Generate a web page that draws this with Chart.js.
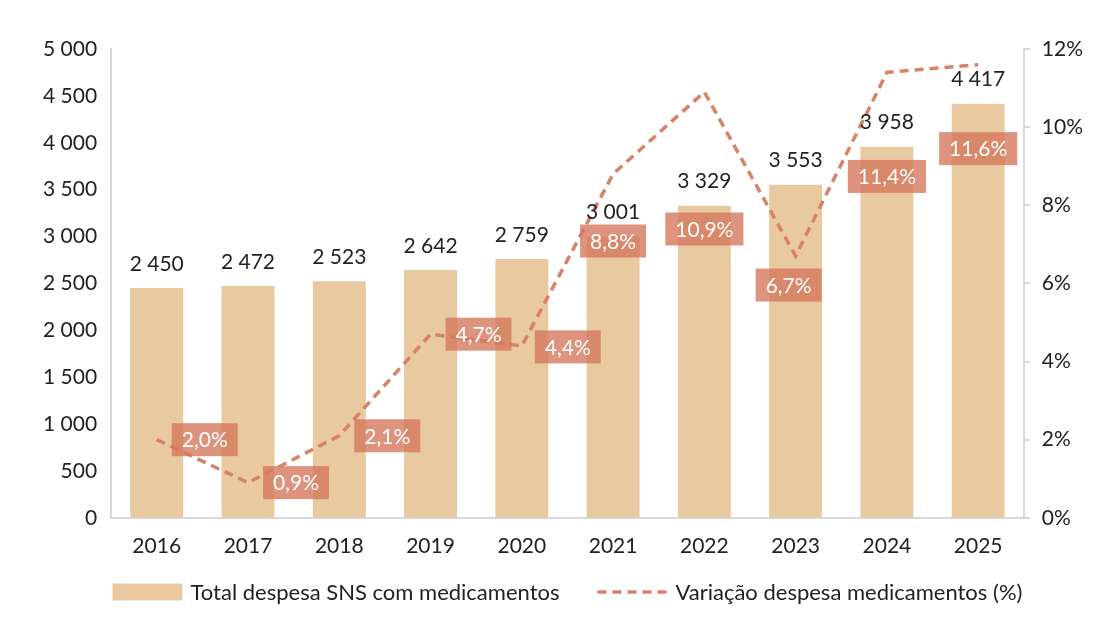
<!DOCTYPE html>
<html>
<head>
<meta charset="utf-8">
<script src="https://cdn.jsdelivr.net/npm/chart.js@4"></script>
<style>
  body { margin: 0; background: #fff; }
  #wrap { width: 1100px; height: 638px; }
</style>
</head>
<body>
<div id="wrap"><canvas id="chart"></canvas></div>
<script>
var years = ['2016','2017','2018','2019','2020','2021','2022','2023','2024','2025'];
var despesa = [2450, 2472, 2523, 2642, 2759, 3001, 3329, 3553, 3958, 4417];
var variacao = [2.0, 0.9, 2.1, 4.7, 4.4, 8.8, 10.9, 6.7, 11.4, 11.6];

// where the % boxes sit relative to their point (px), as in the original layout
var pctShift = [[48,0],[48,0],[48,0],[48,0],[46,1],[0,67],[0,137],[-7,29],[0,104],[0,84]];

var barColor = '#E8C9A0';
var lineColor = '#D9826A';
var axisGray = '#D9D9D9';
var textColor = '#222';

function milhar(v) {
  return String(v).replace(/\B(?=(\d{3})+(?!\d))/g, ' ');
}
function pct(v) {
  return v.toFixed(1).replace('.', ',') + '%';
}

Chart.defaults.font.family = 'Lato';
Chart.defaults.color = textColor;

var labelPlugin = {
  id: 'valueLabels',
  afterDatasetsDraw: function(chart) {
    var ctx = chart.ctx;
    var lineMeta = chart.getDatasetMeta(0);
    var barMeta = chart.getDatasetMeta(1);
    ctx.save();
    ctx.textAlign = 'center';
    ctx.textBaseline = 'middle';
    ctx.font = '21px Lato';
    barMeta.data.forEach(function(bar, i) {
      ctx.fillStyle = textColor;
      ctx.fillText(milhar(despesa[i]), bar.x, bar.y - 24);
    });
    lineMeta.data.forEach(function(pt, i) {
      var txt = pct(variacao[i]);
      var w = ctx.measureText(txt).width + 20;
      var h = 33;
      var cx = pt.x + pctShift[i][0];
      var cy = pt.y + pctShift[i][1];
      ctx.fillStyle = 'rgba(213,120,92,0.8)';
      ctx.fillRect(cx - w / 2, cy - h / 2, w, h);
      ctx.fillStyle = '#fff';
      ctx.fillText(txt, cx, cy + 1);
    });
    ctx.restore();
  }
};

// legend drawn by hand so the dashed line keeps its dash and spacing matches
var legendPlugin = {
  id: 'ownLegend',
  afterDraw: function(chart) {
    var ctx = chart.ctx;
    var area = chart.chartArea;
    var barSet = chart.data.datasets[1];
    var lineSet = chart.data.datasets[0];
    var y = 592, sw = 70, gap = 8, between = 38;
    ctx.save();
    ctx.font = '22px Lato';
    ctx.textBaseline = 'middle';
    var w1 = ctx.measureText(barSet.label).width;
    var w2 = ctx.measureText(lineSet.label).width;
    var total = sw + gap + w1 + between + sw + gap + w2;
    var x = (area.left + area.right) / 2 - total / 2;
    ctx.fillStyle = barSet.backgroundColor;
    ctx.fillRect(x, y - 8.5, sw, 17);
    ctx.fillStyle = textColor;
    ctx.fillText(barSet.label, x + sw + gap, y + 1);
    x += sw + gap + w1 + between;
    ctx.strokeStyle = lineSet.borderColor;
    ctx.lineWidth = lineSet.borderWidth;
    ctx.setLineDash(lineSet.borderDash);
    ctx.beginPath();
    ctx.moveTo(x, y);
    ctx.lineTo(x + sw, y);
    ctx.stroke();
    ctx.setLineDash([]);
    ctx.fillText(lineSet.label, x + sw + gap, y + 1);
    ctx.restore();
  }
};

var ctx = document.getElementById('chart').getContext('2d');

var chart = new Chart(ctx, {
  type: 'bar',
  data: {
    labels: years,
    datasets: [{
      type: 'line',
      label: 'Variação despesa medicamentos (%)',
      data: variacao,
      yAxisID: 'y2',
      borderColor: lineColor,
      backgroundColor: lineColor,
      borderWidth: 3.5,
      borderDash: [9, 6],
      pointRadius: 0,
      tension: 0
    }, {
      label: 'Total despesa SNS com medicamentos',
      data: despesa,
      yAxisID: 'y',
      backgroundColor: barColor,
      borderWidth: 0,
      barPercentage: 0.58,
      categoryPercentage: 1
    }]
  },
  options: {
    responsive: true,
    maintainAspectRatio: false,
    animation: false,
    layout: { padding: { left: 29, right: 5, top: 49, bottom: 63 } },
    plugins: {
      tooltip: { enabled: false },
      legend: { display: false }
    },
    scales: {
      x: {
        grid: { display: false, drawTicks: false },
        border: { color: axisGray, width: 2 },
        ticks: { font: { size: 21 }, padding: 16, color: textColor }
      },
      y: {
        position: 'left',
        min: 0,
        max: 5000,
        grid: { display: false, drawTicks: false },
        border: { color: axisGray, width: 2 },
        ticks: {
          stepSize: 500,
          font: { size: 21 },
          padding: 14,
          color: textColor,
          callback: function(v) { return milhar(v); }
        }
      },
      y2: {
        position: 'right',
        min: 0,
        max: 12,
        grid: { drawOnChartArea: false, drawTicks: true, tickLength: 6, color: axisGray, lineWidth: 2 },
        border: { color: axisGray, width: 2 },
        ticks: {
          stepSize: 2,
          font: { size: 21 },
          padding: 12,
          color: textColor,
          callback: function(v) { return v + '%'; }
        }
      }
    }
  },
  plugins: [labelPlugin, legendPlugin]
});
</script>
</body>
</html>
